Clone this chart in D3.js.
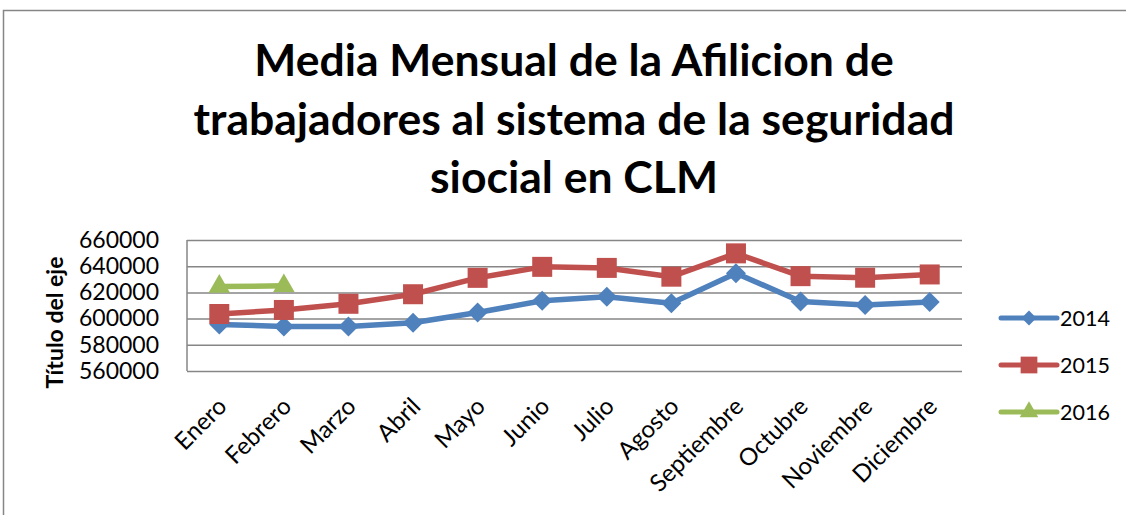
<!DOCTYPE html>
<html>
<head>
<meta charset="utf-8">
<script src="https://cdn.jsdelivr.net/npm/d3@7"></script>
<style>
  body { margin: 0; background: #fff; }
  svg { display: block; font-family: Lato, "Open Sans", sans-serif; }
  .grid line { stroke: #868686; stroke-width: 1.5; }
  .title { font-weight: bold; font-size: 44.5px; fill: #000; }
</style>
</head>
<body>
<svg></svg>
<script>
const months = ["Enero", "Febrero", "Marzo", "Abril", "Mayo", "Junio", "Julio",
  "Agosto", "Septiembre", "Octubre", "Noviembre", "Diciembre"];
const years = ["2014", "2015", "2016"];
const values2014 = [595500, 594000, 594000, 596800, 604600, 613600, 616700, 611800, 634700, 613000, 610400, 612600];
const values2015 = [603500, 606600, 611300, 618600, 631100, 639500, 638700, 632000, 649800, 632400, 631200, 633700];
const values2016 = [624500, 625000];
const yTicks = [560000, 580000, 600000, 620000, 640000, 660000];
const titleLines = ["Media Mensual de la Afilicion de",
  "trabajadores al sistema de la seguridad", "siocial en CLM"];
const colors = ["#4F81BD", "#C0504D", "#9BBB59"];

const svg = d3.select("svg");
svg.attr("width", 1126).attr("height", 515);

const margin = { left: 187, right: 164, top: 240, bottom: 144 };
const graphWidth = 1126 - margin.left - margin.right;
const graphHeight = 515 - margin.top - margin.bottom;

// marco exterior del grafico
svg.append("rect")
  .attr("x", 3.5).attr("y", 10.5)
  .attr("width", 1140).attr("height", 520)
  .attr("fill", "none").attr("stroke", "#868686").attr("stroke-width", 1.5);

svg.append("g")
  .selectAll("text")
  .data(titleLines)
  .join("text")
  .attr("class", "title")
  .attr("x", 574)
  .attr("y", (d, i) => 76 + i * 58.5)
  .attr("text-anchor", "middle")
  .text((d) => d);

const g = svg.append("g").attr("transform", `translate(${margin.left}, ${margin.top})`);

const xScale = d3.scaleBand().domain(months).range([0, graphWidth]);
const yScale = d3.scaleLinear().domain([560000, 660000]).range([graphHeight, 0]);
const xPos = (i) => xScale(months[i]) + xScale.bandwidth() / 2;

// lineas de cuadricula
const yAxis = d3.axisLeft(yScale)
  .tickValues(yTicks)
  .tickFormat(d3.format("d"))
  .tickSize(-graphWidth)
  .tickPadding(28);
const yAxisG = g.append("g").attr("class", "grid").call(yAxis);
yAxisG.select(".domain").remove();
yAxisG.selectAll("text")
  .attr("fill", "#000")
  .style("font-size", "23px")
  .style("font-family", "Lato, sans-serif");

g.append("line")
  .attr("x1", 0).attr("x2", 0).attr("y1", 0).attr("y2", graphHeight)
  .attr("stroke", "#868686").attr("stroke-width", 1.5);

g.append("text")
  .attr("transform", "rotate(-90)")
  .attr("x", -graphHeight / 2 - 17)
  .attr("y", -124)
  .attr("text-anchor", "middle")
  .style("font-size", "23px")
  .style("font-weight", "bold")
  .text("Título del eje");

// etiquetas de meses
const xAxisG = g.append("g").attr("transform", `translate(0, ${graphHeight})`);
xAxisG.selectAll("text")
  .data(months)
  .join("text")
  .attr("transform", (d) => `translate(${xScale(d) + xScale.bandwidth() / 2 + 3}, 31) rotate(-45)`)
  .attr("text-anchor", "end")
  .attr("dy", "0.35em")
  .style("font-size", "24px")
  .text((d) => d);

const diamond = {
  draw(ctx, size) {
    const r = Math.sqrt(size / 2);
    ctx.moveTo(0, -r);
    ctx.lineTo(r, 0);
    ctx.lineTo(0, r);
    ctx.lineTo(-r, 0);
    ctx.closePath();
  }
};

const series = [values2014, values2015, values2016];
const symbols = [diamond, d3.symbolSquare, d3.symbolTriangle];
const symbolSizes = [200, 400, 200];
const legendSizes = [110, 280, 150];

const line = d3.line()
  .x((d, i) => xPos(i))
  .y((d) => yScale(d));

series.forEach((vals, s) => {
  g.append("path")
    .attr("d", line(vals))
    .attr("fill", "none")
    .attr("stroke", colors[s])
    .attr("stroke-width", 5.5)
    .attr("stroke-linejoin", "round");
  g.append("g")
    .selectAll("path")
    .data(vals)
    .join("path")
    .attr("transform", (d, i) => `translate(${xPos(i)}, ${yScale(d)})`)
    .attr("d", d3.symbol(symbols[s], symbolSizes[s]))
    .attr("fill", colors[s]);
});

// leyenda
const legend = svg.append("g").attr("transform", "translate(1001, 318)");
years.forEach((y, i) => {
  const lg = legend.append("g").attr("transform", `translate(0, ${i * 47})`);
  lg.append("line")
    .attr("x1", 0).attr("x2", 56)
    .attr("stroke", colors[i]).attr("stroke-width", 5).attr("stroke-linecap", "round");
  lg.append("path")
    .attr("transform", "translate(28, 0)")
    .attr("d", d3.symbol(symbols[i], legendSizes[i]))
    .attr("fill", colors[i]);
  lg.append("text")
    .attr("x", 59)
    .attr("dy", "0.35em")
    .style("font-size", "21.5px")
    .text(y);
});
</script>
</body>
</html>
